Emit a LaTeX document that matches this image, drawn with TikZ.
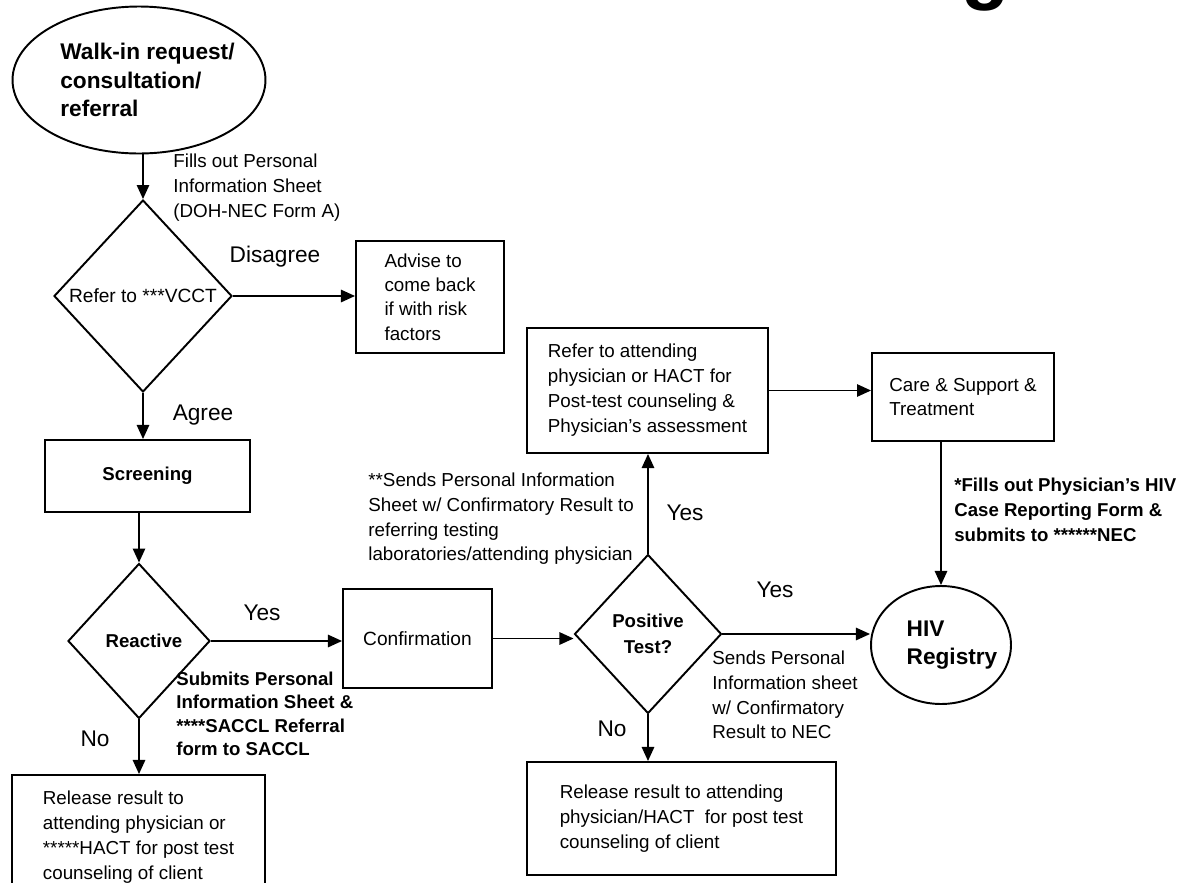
\documentclass[tikz,border=0pt]{standalone}
\usepackage{fontspec}
\setmainfont{Liberation Sans}
\usetikzlibrary{shapes.geometric,arrows.meta}
\tikzset{
  box/.style={draw, line width=1.1pt, rectangle, align=left, inner sep=0pt, font=\fontsize{10.7}{14.2}\selectfont},
  dec/.style={draw, line width=1.1pt, diamond, inner sep=0pt, align=center},
  oval/.style={draw, line width=1.1pt, ellipse, inner sep=0pt},
  ovaltext/.style={align=left, inner sep=0pt, font=\fontsize{12.9}{16.2}\selectfont\bfseries},
  lbl/.style={inner sep=0pt, align=left, font=\fontsize{10.7}{14.2}\selectfont},
  blbl/.style={inner sep=0pt, align=left, font=\fontsize{10.6}{13.4}\selectfont\bfseries},
  bigl/.style={inner sep=0pt, font=\fontsize{12.9}{15}\selectfont},
  arr/.style={-{Triangle[length=8pt,width=7pt]}, line width=1.1pt},
}
\begin{document}
\begin{tikzpicture}[x=0.02cm, y=-0.02cm]
\useasboundingbox (0,0) rectangle (1198,883);
\clip (0,0) rectangle (1198,883);

\node[inner sep=0pt, anchor=south east, font=\fontsize{45}{45}\selectfont\bfseries] (titleg) at (1010,12) {g};

\node[oval, minimum width=5.06cm, minimum height=2.94cm, label={[ovaltext, xshift=0.17cm]center:{Walk-in request/\\consultation/\\referral}}] (walkin) at (139,80) {};
\node[dec, minimum width=3.56cm, minimum height=3.84cm, font=\fontsize{10.9}{13}\selectfont] (vcct) at (143,296) {Refer to ***VCCT};
\node[box, minimum width=2.96cm, minimum height=2.24cm, font=\fontsize{10.7}{13.9}\selectfont] (advise) at (430,297) {Advise to\\come back\\if with risk\\factors};
\node[box, minimum width=4.1cm, minimum height=1.44cm, font=\fontsize{10.6}{13}\selectfont\bfseries] (screen) at (147.5,476) {Screening};
\node[dec, minimum width=2.84cm, minimum height=3.1cm, font=\fontsize{10.6}{13}\selectfont\bfseries] (reactive) at (139,641) {\hspace*{0.2cm}Reactive};
\node[box, minimum width=5.06cm, minimum height=2.5cm] (release1) at (138.5,837.5) {Release result to\\attending physician or\\*****HACT for post test\\counseling of client};
\node[box, minimum width=2.98cm, minimum height=1.98cm, font=\fontsize{10.9}{13}\selectfont] (confirm) at (417.5,638.5) {Confirmation};
\node[dec, minimum width=2.94cm, minimum height=3.18cm, font=\fontsize{10.6}{14.5}\selectfont\bfseries] (positive) at (648,634) {Positive\\Test?};
\node[box, minimum width=4.82cm, minimum height=2.5cm] (refer) at (647.5,390.5) {Refer to attending\\physician or HACT for\\Post-test counseling \&\\Physician’s assessment};
\node[box, minimum width=3.64cm, minimum height=1.76cm] (care) at (963,397) {Care \& Support \&\\Treatment};
\node[oval, minimum width=2.8cm, minimum height=2.36cm, label={[ovaltext, xshift=0.22cm]center:{HIV\\Registry}}] (hiv) at (941,645) {};
\node[box, minimum width=6.18cm, minimum height=2.26cm] (release2) at (681.5,818.5) {Release result to attending\\physician/HACT\ \ for post test\\counseling of client};

\node[lbl, anchor=west] (fills) at (173,188) {Fills out Personal\\Information Sheet\\(DOH-NEC Form A)};
\node[bigl] (disagree) at (275,257) {Disagree};
\node[bigl] (agree) at (203,415) {Agree};
\node[bigl] (no1) at (95,739) {No};
\node[bigl] (yes1) at (262,613) {Yes};
\node[blbl, anchor=west] (submits) at (176,714) {Submits Personal\\Information Sheet \&\\****SACCL Referral\\form to SACCL};
\node[lbl, anchor=west, font=\fontsize{10.7}{14}\selectfont] (sendslab) at (368,519) {**Sends Personal Information\\Sheet w/ Confirmatory Result to\\referring testing\\laboratories/attending physician};
\node[bigl] (yes2) at (685,513) {Yes};
\node[bigl] (yes3) at (775,590) {Yes};
\node[lbl, anchor=west, font=\fontsize{10.7}{14}\selectfont] (sendsnec) at (712,695) {Sends Personal\\Information sheet\\w/ Confirmatory\\Result to NEC};
\node[bigl] (no2) at (612,729) {No};
\node[blbl, anchor=west, font=\fontsize{10.6}{14.2}\selectfont\bfseries] (fillsphys) at (954,510) {*Fills out Physician’s HIV\\Case Reporting Form \&\\submits to ******NEC};

\draw[arr] (vcct.north |- walkin.south) -- (vcct.north);
\draw[arr] (vcct.east) -- (vcct.east -| advise.west);
\draw[arr] (vcct.south) -- (vcct.south |- screen.north);
\draw[arr] (reactive.north |- screen.south) -- (reactive.north);
\draw[arr] (reactive.south) -- (reactive.south |- release1.north);
\draw[arr] (reactive.east) -- (reactive.east -| confirm.west);
\draw[arr] (confirm.east) -- (confirm.east -| positive.west);
\draw[arr] (positive.north) -- (positive.north |- refer.south);
\draw[arr] (refer.east) -- (refer.east -| care.west);
\draw[arr] (hiv.north |- care.south) -- (hiv.north);
\draw[arr] (positive.east) -- (positive.east -| hiv.west);
\draw[arr] (positive.south) -- (positive.south |- release2.north);

\end{tikzpicture}
\end{document}
